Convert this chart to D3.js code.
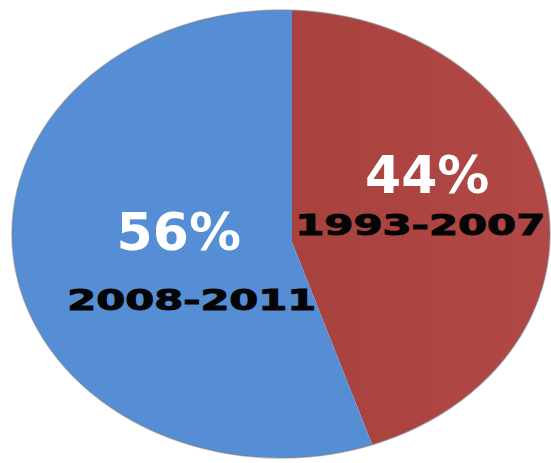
<!DOCTYPE html>
<html lang="en">
<head>
<meta charset="utf-8">
<title>Pie</title>
<script src="https://cdn.jsdelivr.net/npm/d3@7"></script>
<style>
  body { margin: 0; background: #fff; }
  svg { display: block; }
</style>
</head>
<body>
<script>
// slices, in drawing order from 12 o'clock clockwise
var periods = ["1993-2007", "2008-2011"];
var shares = [44, 56];
var colors = ["#b84b48", "#558ed5"];

var width = 551, height = 463;
var apex = {x: 292, y: 242};          // where the slices meet
var rim = {cx: 281, cy: 234, rx: 269, ry: 224};

var svg = d3.select("body").append("svg")
    .attr("width", width)
    .attr("height", height);

var defs = svg.append("defs");
defs.append("clipPath").attr("id", "rim")
  .append("ellipse")
    .attr("cx", rim.cx).attr("cy", rim.cy)
    .attr("rx", rim.rx).attr("ry", rim.ry);

// red gets a soft shading, darker next to the cut
var grad = defs.append("linearGradient").attr("id", "redShade")
    .attr("x1", "0%").attr("x2", "100%").attr("y1", "0%").attr("y2", "0%");
grad.append("stop").attr("offset", "0%").attr("stop-color", "#a7423f");
grad.append("stop").attr("offset", "100%").attr("stop-color", "#c0504d");

var data = periods.map(function(p, i) { return {period: p, value: shares[i], color: colors[i]}; });

var pie = d3.pie().sort(null).value(function(d) { return d.value; });
var arcs = pie(data);

// wedges are cut much larger than the disc and clipped by the rim ellipse
var wedge = d3.arc().innerRadius(0).outerRadius(600);

var g = svg.append("g").attr("clip-path", "url(#rim)");
g.selectAll("path")
  .data(arcs)
  .enter().append("path")
    .attr("transform", "translate(" + apex.x + "," + apex.y + ")")
    .attr("d", wedge)
    .attr("fill", function(d, i) { return i === 0 ? "url(#redShade)" : d.data.color; });

svg.append("ellipse")
    .attr("cx", rim.cx).attr("cy", rim.cy)
    .attr("rx", rim.rx).attr("ry", rim.ry)
    .attr("fill", "none")
    .attr("stroke", "#7a7f88")
    .attr("stroke-opacity", 0.55)
    .attr("stroke-width", 1.5);

// labels: offsets from each slice's centroid on a 200px disc
var labelArc = d3.arc().innerRadius(0).outerRadius(200);
var pctShift = [[37, -30], [-15, -11]];
var yearShift = [[30, 12], [-2, 49]];
var yearWidth = [250, 249];

var labels = svg.selectAll("g.lbl")
  .data(arcs)
  .enter().append("g")
    .attr("class", "lbl")
    .attr("transform", function(d) {
      var c = labelArc.centroid(d);
      return "translate(" + (apex.x + c[0]) + "," + (apex.y + c[1]) + ")";
    });

labels.append("text")
    .attr("x", function(d, i) { return pctShift[i][0]; })
    .attr("y", function(d, i) { return pctShift[i][1]; })
    .attr("text-anchor", "middle")
    .attr("font-family", "DejaVu Sans, Verdana, sans-serif")
    .attr("font-weight", "bold")
    .attr("font-size", 52)
    .attr("fill", "#fff")
    .text(function(d) { return d.data.value + "%"; });

labels.append("text")
    .attr("x", function(d, i) { return yearShift[i][0] - yearWidth[i] / 2; })
    .attr("y", function(d, i) { return yearShift[i][1]; })
    .attr("textLength", function(d, i) { return yearWidth[i]; })
    .attr("lengthAdjust", "spacingAndGlyphs")
    .attr("font-family", "DejaVu Sans, Verdana, sans-serif")
    .attr("font-weight", "bold")
    .attr("font-size", 28)
    .attr("fill", "#050505")
    .attr("stroke", "#050505")
    .attr("stroke-width", 1)
    .text(function(d) { return d.data.period; });
</script>
</body>
</html>
